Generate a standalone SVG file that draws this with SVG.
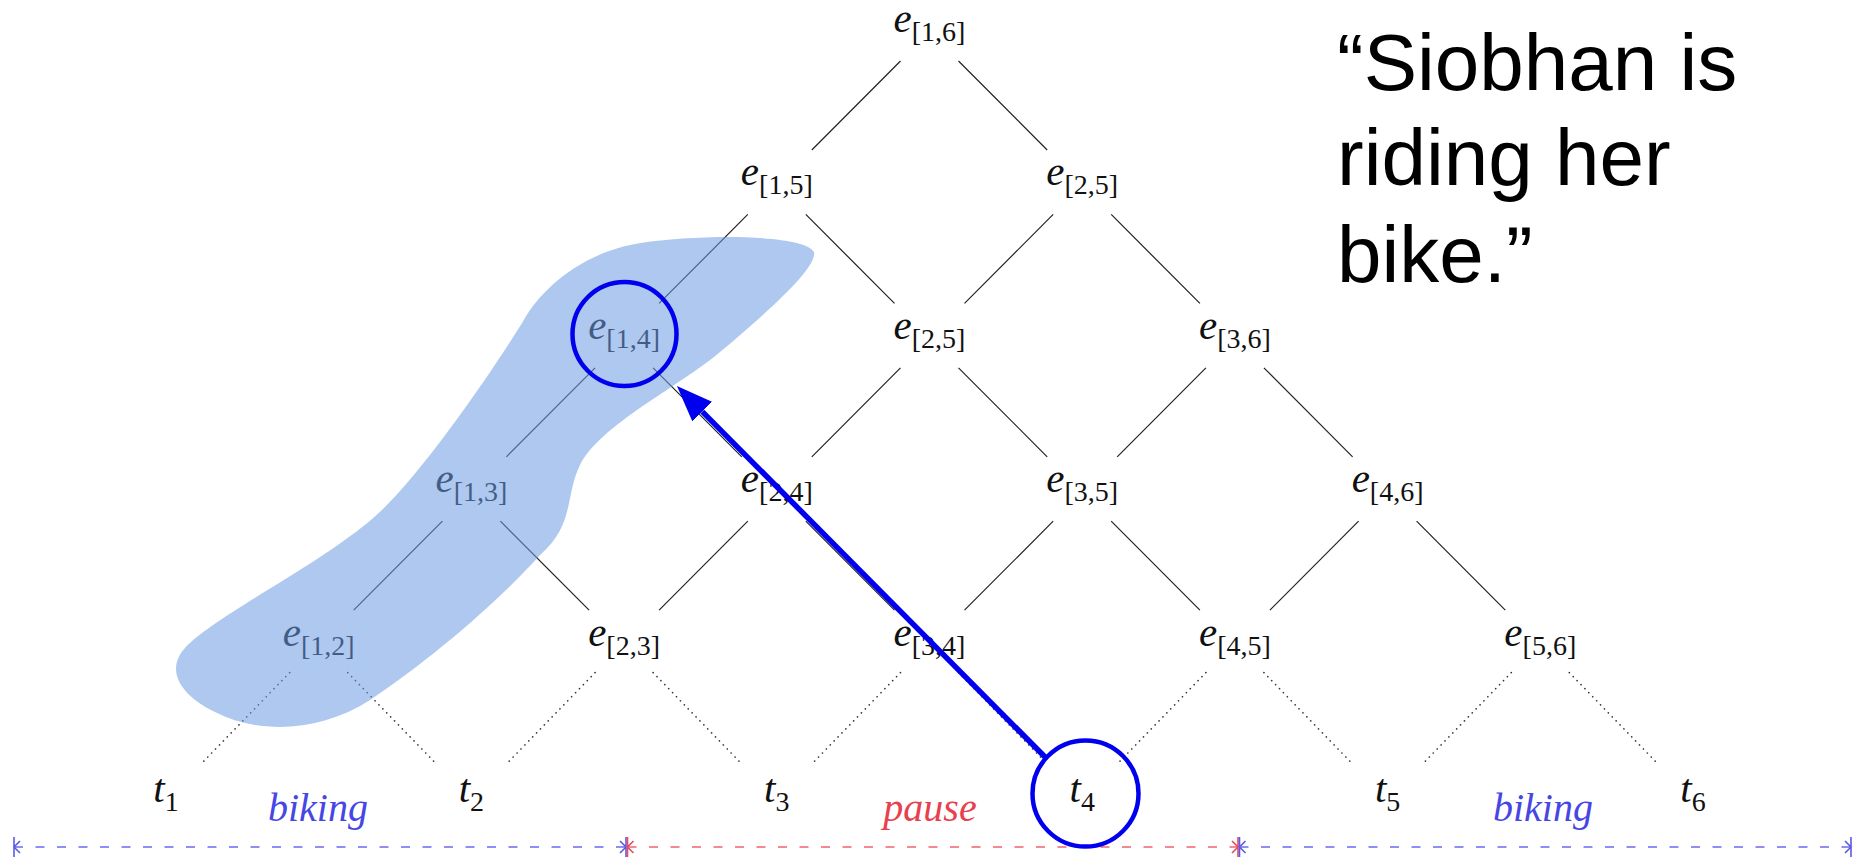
<svg xmlns="http://www.w3.org/2000/svg" width="1865" height="865" viewBox="0 0 1865 865">
<style>
  .lbl { font-family: "Liberation Serif", "DejaVu Serif", serif; font-size: 41px; fill: #111; text-anchor: middle; }
  .it { font-style: italic; }
  .sub { font-size: 28px; font-style: normal; }
  .edge { stroke: #222; stroke-width: 1.2; fill: none; }
  .dot { stroke: #333; stroke-width: 1.6; stroke-dasharray: 0.1 5.5; stroke-linecap: round; fill: none; }
  .act { font-family: "Liberation Serif", "DejaVu Serif", serif; font-size: 40px; font-style: italic; text-anchor: middle; }
  .blue { fill: #4646e6; }
  .red { fill: #e8404c; }
  .tlb { stroke: #6b6bf0; stroke-width: 1.6; stroke-dasharray: 9 12.5; fill: none; }
  .tlr { stroke: #f0646e; stroke-width: 1.6; stroke-dasharray: 9 12.5; fill: none; }
  .hl { fill: none; stroke: #0000ee; stroke-width: 4.5; }
  .quote { font-family: "Liberation Sans", Arial, sans-serif; font-size: 80px; fill: #000; }
</style>
<defs>
  <marker id="endB" markerUnits="userSpaceOnUse" viewBox="-10 -12 14 24" markerWidth="14" markerHeight="24" refX="0" refY="0" orient="auto-start-reverse" overflow="visible">
    <path d="M0,-10 L0,10 M-6,-6 L0,0 L-6,6" fill="none" stroke="#5a5ae8" stroke-width="1.6"/>
  </marker>
  <marker id="endR" markerUnits="userSpaceOnUse" viewBox="-10 -12 14 24" markerWidth="14" markerHeight="24" refX="0" refY="0" orient="auto-start-reverse" overflow="visible">
    <path d="M0,-10 L0,10 M-6,-6 L0,0 L-6,6" fill="none" stroke="#e84c5a" stroke-width="1.6"/>
  </marker>
  <marker id="arrowHead" markerUnits="userSpaceOnUse" viewBox="0 0 36 28" markerWidth="36" markerHeight="28" refX="0" refY="14" orient="auto">
    <path d="M0,0 L36,14 L0,28 Z" fill="#0000ee"/>
  </marker>
</defs>
<rect width="1865" height="865" fill="#fff"/>

<g id="connectors">
  <path class="edge" d="M900.5,61 L811.8,150 M958.5,61 L1047.2,150"/>
  <path class="edge" d="M747.8,214.4 L659.1,303.4 M805.8,214.4 L894.5,303.4 M1053.2,214.4 L964.5,303.4 M1111.2,214.4 L1199.9,303.4"/>
  <path class="edge" d="M595.1,367.8 L506.4,456.8 M653.1,367.8 L741.8,456.8 M900.5,367.8 L811.8,456.8 M958.5,367.8 L1047.2,456.8 M1205.9,367.8 L1117.2,456.8 M1263.9,367.8 L1352.6,456.8"/>
  <path class="edge" d="M442.4,521.2 L353.7,610.2 M500.4,521.2 L589.1,610.2 M747.8,521.2 L659.1,610.2 M805.8,521.2 L894.5,610.2 M1053.2,521.2 L964.5,610.2 M1111.2,521.2 L1199.9,610.2 M1358.6,521.2 L1269.9,610.2 M1416.6,521.2 L1505.3,610.2"/>
  <path class="dot" d="M289.7,672.6 L201,764 M347.7,672.6 L436.4,764 M595.1,672.6 L506.4,764 M653.1,672.6 L741.8,764 M900.5,672.6 L811.8,764 M958.5,672.6 L1047.2,764 M1205.9,672.6 L1117.2,764 M1263.9,672.6 L1352.6,764 M1511.3,672.6 L1422.6,764 M1569.3,672.6 L1658,764"/>
</g>

<g id="n-e16"><text class="lbl" x="929.5" y="32"><tspan class="it">e</tspan><tspan class="sub" dy="9">[1,6]</tspan></text></g>
<g id="n-e15"><text class="lbl" x="776.8" y="185.4"><tspan class="it">e</tspan><tspan class="sub" dy="9">[1,5]</tspan></text></g>
<g id="n-e25a"><text class="lbl" x="1082.2" y="185.4"><tspan class="it">e</tspan><tspan class="sub" dy="9">[2,5]</tspan></text></g>
<g id="n-e14"><text class="lbl" x="624.1" y="338.8"><tspan class="it">e</tspan><tspan class="sub" dy="9">[1,4]</tspan></text></g>
<g id="n-e25b"><text class="lbl" x="929.5" y="338.8"><tspan class="it">e</tspan><tspan class="sub" dy="9">[2,5]</tspan></text></g>
<g id="n-e36"><text class="lbl" x="1234.9" y="338.8"><tspan class="it">e</tspan><tspan class="sub" dy="9">[3,6]</tspan></text></g>
<g id="n-e13"><text class="lbl" x="471.4" y="492.2"><tspan class="it">e</tspan><tspan class="sub" dy="9">[1,3]</tspan></text></g>
<g id="n-e24"><text class="lbl" x="776.8" y="492.2"><tspan class="it">e</tspan><tspan class="sub" dy="9">[2,4]</tspan></text></g>
<g id="n-e35"><text class="lbl" x="1082.2" y="492.2"><tspan class="it">e</tspan><tspan class="sub" dy="9">[3,5]</tspan></text></g>
<g id="n-e46"><text class="lbl" x="1387.6" y="492.2"><tspan class="it">e</tspan><tspan class="sub" dy="9">[4,6]</tspan></text></g>
<g id="n-e12"><text class="lbl" x="318.7" y="645.6"><tspan class="it">e</tspan><tspan class="sub" dy="9">[1,2]</tspan></text></g>
<g id="n-e23"><text class="lbl" x="624.1" y="645.6"><tspan class="it">e</tspan><tspan class="sub" dy="9">[2,3]</tspan></text></g>
<g id="n-e34"><text class="lbl" x="929.5" y="645.6"><tspan class="it">e</tspan><tspan class="sub" dy="9">[3,4]</tspan></text></g>
<g id="n-e45"><text class="lbl" x="1234.9" y="645.6"><tspan class="it">e</tspan><tspan class="sub" dy="9">[4,5]</tspan></text></g>
<g id="n-e56"><text class="lbl" x="1540.3" y="645.6"><tspan class="it">e</tspan><tspan class="sub" dy="9">[5,6]</tspan></text></g>

<g id="n-t1"><text class="lbl" x="166" y="802"><tspan class="it">t</tspan><tspan class="sub" dy="9">1</tspan></text></g>
<g id="n-t2"><text class="lbl" x="471.4" y="802"><tspan class="it">t</tspan><tspan class="sub" dy="9">2</tspan></text></g>
<g id="n-t3"><text class="lbl" x="776.8" y="802"><tspan class="it">t</tspan><tspan class="sub" dy="9">3</tspan></text></g>
<g id="n-t4"><text class="lbl" x="1082.2" y="802"><tspan class="it">t</tspan><tspan class="sub" dy="9">4</tspan></text></g>
<g id="n-t5"><text class="lbl" x="1387.6" y="802"><tspan class="it">t</tspan><tspan class="sub" dy="9">5</tspan></text></g>
<g id="n-t6"><text class="lbl" x="1693" y="802"><tspan class="it">t</tspan><tspan class="sub" dy="9">6</tspan></text></g>

<g id="timeline">
  <line class="tlb" x1="14" y1="847" x2="626" y2="847" marker-start="url(#endB)" marker-end="url(#endB)"/>
  <line class="tlr" x1="627.5" y1="847" x2="1238" y2="847" marker-start="url(#endR)" marker-end="url(#endR)"/>
  <line class="tlb" x1="1239.5" y1="847" x2="1851" y2="847" marker-start="url(#endB)" marker-end="url(#endB)"/>
  <text class="act blue" x="318" y="821">biking</text>
  <text class="act red" x="930" y="821">pause</text>
  <text class="act blue" x="1543" y="821">biking</text>
</g>

<g id="blob">
  <path d="M185,648 C215,615 330,560 382,510 C430,464 505,352 525,318 C540,292 580,252 641,243 C700,234 805,234 814,252 C817,268 770,310 720,352 C680,386 600,425 580,465 C565,495 575,525 540,555 C500,600 430,660 370,700 C320,732 260,735 215,712 C180,695 165,670 185,648 Z" fill="#6b9be3" fill-opacity="0.55"/>
</g>

<g id="highlights">
  <circle class="hl" cx="624.5" cy="334" r="52"/>
  <circle class="hl" cx="1085.5" cy="793.5" r="53"/>
  <line x1="1046" y1="758" x2="702.3" y2="411.6" stroke="#0000ee" stroke-width="5.5" marker-end="url(#arrowHead)"/>
</g>

<g id="quote">
  <text class="quote" x="1337" y="90">“Siobhan is</text>
  <text class="quote" x="1337" y="185">riding her</text>
  <text class="quote" x="1337" y="282">bike.”</text>
</g>
</svg>
